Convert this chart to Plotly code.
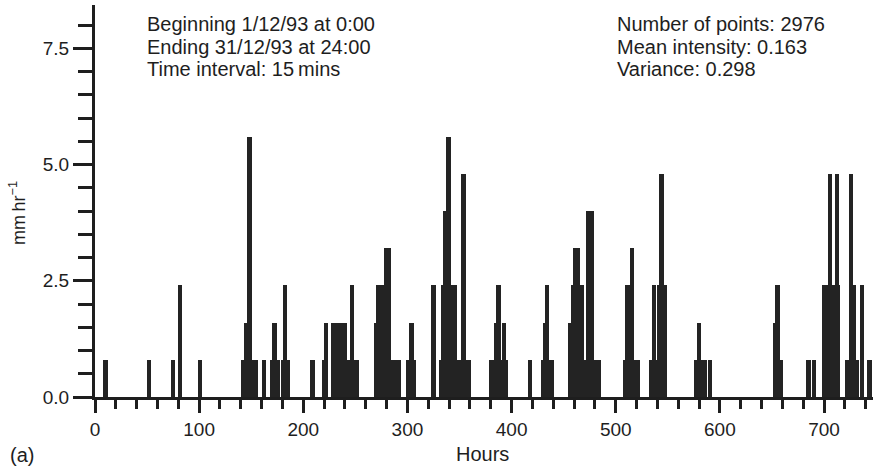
import plotly.graph_objects as go

# Rain intensity strokes (hour, mm/hr)
hours = [
    10, 52, 75, 81.5, 101,
    142, 144, 145.6, 148.2, 150.5, 152.5, 154,
    162.3,
    170, 172.5, 175.5,
    181, 182.5, 185,
    208.7,
    219.8, 221.8,
    228.9,
    234, 237, 240,
    243, 245, 247, 249.5, 251.5,
    270, 272, 274.5, 276.5, 279.5, 282, 286.5, 291.5,
    301, 304, 306.5,
    325.2,
    332, 334, 336.5, 339.5, 342, 345, 347, 349.5, 351.5, 353.8, 356.5, 358.5,
    380.5, 382.5, 385, 387.3, 390, 392.6, 394,
    417.6,
    430, 432, 434, 436.5, 439,
    456.5, 459, 461.5, 464, 467, 469.5, 473.5, 476.5, 479.5, 482, 484,
    509.5, 511.5, 515.5, 519, 521.5,
    534, 536.5, 540.5, 542, 544, 546.5, 547.5,
    577.5, 579.8, 582.5, 585, 590.5,
    653, 655.5, 658,
    685, 690.4,
    700.5, 703, 705.5, 708, 710, 712.5, 713.5,
    721.8,
    726, 728.5, 731.5, 736.2, 743.75,
]
intensity = [
    0.8, 0.8, 0.8, 2.4, 0.8,
    0.8, 0.8, 1.6, 5.6, 0.8, 0.8, 0.8,
    0.8,
    0.8, 1.6, 0.8,
    0.8, 2.4, 0.8,
    0.8,
    0.8, 1.6,
    1.6,
    1.6, 1.6, 1.6,
    0.8, 0.8, 2.4, 0.8, 0.8,
    1.6, 2.4, 2.4, 2.4, 3.2, 3.2, 0.8, 0.8,
    0.8, 1.6, 0.8,
    2.4,
    0.8, 2.4, 4.0, 5.6, 2.4, 2.4, 0.8, 0.8, 0.8, 4.8, 0.8, 0.8,
    0.8, 0.8, 1.6, 2.4, 0.8, 1.6, 0.8,
    0.8,
    0.8, 1.6, 2.4, 0.8, 0.8,
    1.6, 2.4, 3.2, 3.2, 2.4, 0.8, 4.0, 4.0, 0.8, 0.8, 0.8,
    0.8, 2.4, 3.2, 0.8, 0.8,
    0.8, 2.4, 0.8, 2.4, 4.8, 2.4, 2.4,
    0.8, 1.6, 0.8, 0.8, 0.8,
    1.6, 2.4, 0.8,
    0.8, 0.8,
    2.4, 2.4, 4.8, 2.4, 2.4, 4.8, 2.4,
    0.8,
    4.8, 2.4, 0.8, 2.4, 0.8,
]

y_tickvals = [0, 2.5, 5.0, 7.5]
y_ticktext = ["0.0", "2.5", "5.0", "7.5"]
x_tickvals = [0, 100, 200, 300, 400, 500, 600, 700]

left_text = ["Beginning 1/12/93 at 0:00", "Ending 31/12/93 at 24:00", "Time interval: 15\u2009mins"]
right_text = ["Number of points: 2976", "Mean intensity: 0.163", "Variance: 0.298"]

W, H = 880, 471
ML, MR, MT, MB = 95, 7, 5, 74
PW, PH = W - ML - MR, H - MT - MB

def px(x):
    return (x - ML) / PW

def py(y):
    return (H - MB - y) / PH

INK = "#1e1e1e"
FONT = "Liberation Sans, Arial, sans-serif"

fig = go.Figure()
fig.add_trace(go.Bar(x=hours, y=intensity, width=4.3,
                     marker=dict(color="#232323", line=dict(width=0))))

anns = []
for i, t in enumerate(left_text):
    anns.append(dict(text=t, x=px(145), y=py(24 + 22.5 * i), xref="paper", yref="paper",
                     xanchor="left", yanchor="middle", showarrow=False,
                     font=dict(size=20, color=INK, family=FONT)))
for i, t in enumerate(right_text):
    anns.append(dict(text=t, x=px(615), y=py(24 + 22.5 * i), xref="paper", yref="paper",
                     xanchor="left", yanchor="middle", showarrow=False,
                     font=dict(size=20, color=INK, family=FONT)))
anns.append(dict(text="(a)", x=px(8), y=py(455), xref="paper", yref="paper",
                 xanchor="left", yanchor="middle", showarrow=False,
                 font=dict(size=20, color=INK, family=FONT)))
anns.append(dict(text="Hours", x=px(482), y=py(454), xref="paper", yref="paper",
                 xanchor="center", yanchor="middle", showarrow=False,
                 font=dict(size=20, color=INK, family=FONT)))
anns.append(dict(text="mm\u2009hr<sup>\u22121</sup>", x=px(18), y=py(213), xref="paper", yref="paper",
                 xanchor="center", yanchor="middle", showarrow=False, textangle=-90,
                 font=dict(size=18, color=INK, family=FONT)))

fig.update_layout(
    width=W, height=H, margin=dict(l=ML, r=MR, t=MT, b=MB),
    paper_bgcolor="white", plot_bgcolor="white",
    showlegend=False, bargap=0, annotations=anns,
    font=dict(family=FONT, size=19, color=INK),
)
fig.update_xaxes(range=[0, 747], showline=True, linewidth=3, linecolor=INK,
                 ticks="outside", ticklen=13, tickwidth=3, tickcolor=INK,
                 tickvals=x_tickvals, showgrid=False, zeroline=False,
                 tickfont=dict(size=19, color=INK, family=FONT),
                 minor=dict(dtick=20, tick0=0, ticks="outside", ticklen=9, tickwidth=3,
                            tickcolor=INK, showgrid=False))
fig.update_yaxes(range=[0, 8.43], showline=True, linewidth=3, linecolor=INK,
                 ticks="outside", ticklen=19, tickwidth=3, tickcolor=INK,
                 tickvals=y_tickvals, ticktext=y_ticktext, showgrid=False, zeroline=False,
                 tickfont=dict(size=19, color=INK, family=FONT),
                 minor=dict(dtick=0.5, tick0=0, ticks="outside", ticklen=14, tickwidth=3,
                            tickcolor=INK, showgrid=False))

fig.write_html("out.html")
